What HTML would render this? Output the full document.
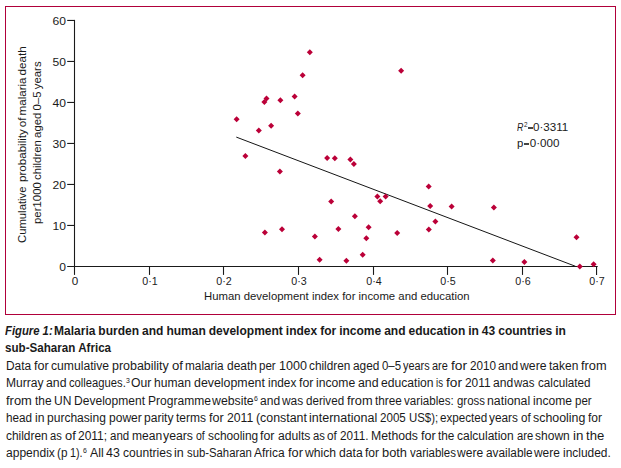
<!DOCTYPE html>
<html><head><meta charset="utf-8"><title>Figure 1</title>
<style>
html,body{margin:0;padding:0;background:#fff;}
body{width:621px;height:468px;position:relative;overflow:hidden;font-family:"Liberation Sans",sans-serif;color:#1a1a1a;}
.box{position:absolute;left:5px;top:6px;width:611px;height:309px;border:1px solid #b0003a;box-sizing:border-box;}
.t{position:absolute;white-space:nowrap;line-height:0;height:0;}
sup{font-size:58%;line-height:0;vertical-align:baseline;position:relative;top:-0.62em;}
.rot{position:absolute;white-space:nowrap;line-height:0;height:0;transform-origin:0 0;}
</style></head><body>
<div class="box"></div>
<svg width="621" height="468" viewBox="0 0 621 468" style="position:absolute;left:0;top:0">
<g stroke="#1a1a1a" stroke-width="1.1" fill="none" stroke-linecap="butt">
<path d="M74.5 19.90 V274.9"/>
<path d="M67.2 266.45 H597.7"/>
<path d="M67.2 225.45 H74.5"/>
<path d="M67.2 184.45 H74.5"/>
<path d="M67.2 143.45 H74.5"/>
<path d="M67.2 102.45 H74.5"/>
<path d="M67.2 61.45 H74.5"/>
<path d="M67.2 20.45 H74.5"/>
<path d="M149.50 266.45 V274.9"/>
<path d="M223.50 266.45 V274.9"/>
<path d="M298.50 266.45 V274.9"/>
<path d="M373.50 266.45 V274.9"/>
<path d="M447.50 266.45 V274.9"/>
<path d="M522.50 266.45 V274.9"/>
<path d="M596.55 266.45 V274.9"/>
</g>
<path d="M236.3 137.1 L575.5 266.3" stroke="#151515" stroke-width="1" fill="none"/>
<g fill="#bb0038">
<path d="M309.8 49.2 L312.8 52.2 L309.8 55.2 L306.8 52.2Z"/>
<path d="M302.6 72.2 L305.6 75.2 L302.6 78.2 L299.6 75.2Z"/>
<path d="M294.6 93.5 L297.6 96.5 L294.6 99.5 L291.6 96.5Z"/>
<path d="M297.8 110.6 L300.8 113.6 L297.8 116.6 L294.8 113.6Z"/>
<path d="M280.4 97.2 L283.4 100.2 L280.4 103.2 L277.4 100.2Z"/>
<path d="M266.5 95.4 L269.5 98.4 L266.5 101.4 L263.5 98.4Z"/>
<path d="M264.4 99.0 L267.4 102.0 L264.4 105.0 L261.4 102.0Z"/>
<path d="M236.6 116.2 L239.6 119.2 L236.6 122.2 L233.6 119.2Z"/>
<path d="M271.1 122.8 L274.1 125.8 L271.1 128.8 L268.1 125.8Z"/>
<path d="M258.8 127.5 L261.8 130.5 L258.8 133.5 L255.8 130.5Z"/>
<path d="M245.4 152.9 L248.4 155.9 L245.4 158.9 L242.4 155.9Z"/>
<path d="M279.9 168.5 L282.9 171.5 L279.9 174.5 L276.9 171.5Z"/>
<path d="M327.1 154.9 L330.1 157.9 L327.1 160.9 L324.1 157.9Z"/>
<path d="M334.8 155.2 L337.8 158.2 L334.8 161.2 L331.8 158.2Z"/>
<path d="M350.4 156.5 L353.4 159.5 L350.4 162.5 L347.4 159.5Z"/>
<path d="M353.9 160.9 L356.9 163.9 L353.9 166.9 L350.9 163.9Z"/>
<path d="M331.2 198.6 L334.2 201.6 L331.2 204.6 L328.2 201.6Z"/>
<path d="M354.9 213.3 L357.9 216.3 L354.9 219.3 L351.9 216.3Z"/>
<path d="M282.0 226.3 L285.0 229.3 L282.0 232.3 L279.0 229.3Z"/>
<path d="M338.4 226.0 L341.4 229.0 L338.4 232.0 L335.4 229.0Z"/>
<path d="M264.9 229.4 L267.9 232.4 L264.9 235.4 L261.9 232.4Z"/>
<path d="M314.9 233.5 L317.9 236.5 L314.9 239.5 L311.9 236.5Z"/>
<path d="M319.6 256.7 L322.6 259.7 L319.6 262.7 L316.6 259.7Z"/>
<path d="M346.4 257.7 L349.4 260.7 L346.4 263.7 L343.4 260.7Z"/>
<path d="M401.1 67.8 L404.1 70.8 L401.1 73.8 L398.1 70.8Z"/>
<path d="M428.7 183.4 L431.7 186.4 L428.7 189.4 L425.7 186.4Z"/>
<path d="M377.4 193.5 L380.4 196.5 L377.4 199.5 L374.4 196.5Z"/>
<path d="M385.6 193.5 L388.6 196.5 L385.6 199.5 L382.6 196.5Z"/>
<path d="M380.2 198.3 L383.2 201.3 L380.2 204.3 L377.2 201.3Z"/>
<path d="M430.2 203.1 L433.2 206.1 L430.2 209.1 L427.2 206.1Z"/>
<path d="M451.6 203.5 L454.6 206.5 L451.6 209.5 L448.6 206.5Z"/>
<path d="M493.9 204.5 L496.9 207.5 L493.9 210.5 L490.9 207.5Z"/>
<path d="M435.4 218.4 L438.4 221.4 L435.4 224.4 L432.4 221.4Z"/>
<path d="M368.6 224.3 L371.6 227.3 L368.6 230.3 L365.6 227.3Z"/>
<path d="M428.8 226.6 L431.8 229.6 L428.8 232.6 L425.8 229.6Z"/>
<path d="M397.2 230.1 L400.2 233.1 L397.2 236.1 L394.2 233.1Z"/>
<path d="M366.3 235.3 L369.3 238.3 L366.3 241.3 L363.3 238.3Z"/>
<path d="M362.7 251.8 L365.7 254.8 L362.7 257.8 L359.7 254.8Z"/>
<path d="M492.8 257.6 L495.8 260.6 L492.8 263.6 L489.8 260.6Z"/>
<path d="M576.5 234.3 L579.5 237.3 L576.5 240.3 L573.5 237.3Z"/>
<path d="M524.4 259.0 L527.4 262.0 L524.4 265.0 L521.4 262.0Z"/>
<path d="M579.8 263.5 L582.8 266.5 L579.8 269.5 L576.8 266.5Z"/>
<path d="M593.6 261.3 L596.6 264.3 L593.6 267.3 L590.6 264.3Z"/>
</g></svg>
<div class="t" style="left:66.4px;top:267px;font-size:11px;transform:translateX(-100%) scaleX(1.1);transform-origin:100% 0;">0</div>
<div class="t" style="left:66.4px;top:226px;font-size:11px;transform:translateX(-100%) scaleX(1.1);transform-origin:100% 0;">10</div>
<div class="t" style="left:66.4px;top:185px;font-size:11px;transform:translateX(-100%) scaleX(1.1);transform-origin:100% 0;">20</div>
<div class="t" style="left:66.4px;top:144px;font-size:11px;transform:translateX(-100%) scaleX(1.1);transform-origin:100% 0;">30</div>
<div class="t" style="left:66.4px;top:103px;font-size:11px;transform:translateX(-100%) scaleX(1.1);transform-origin:100% 0;">40</div>
<div class="t" style="left:66.4px;top:62px;font-size:11px;transform:translateX(-100%) scaleX(1.1);transform-origin:100% 0;">50</div>
<div class="t" style="left:66.4px;top:21px;font-size:11px;transform:translateX(-100%) scaleX(1.1);transform-origin:100% 0;">60</div>
<div class="t" style="left:74.6px;top:281px;font-size:11px;transform:translateX(-50%) scaleX(1.06);transform-origin:50% 0;">0</div>
<div class="t" style="left:149.6px;top:281px;font-size:11px;transform:translateX(-50%) scaleX(0.97);transform-origin:50% 0;">0·1</div>
<div class="t" style="left:223.6px;top:281px;font-size:11px;transform:translateX(-50%) scaleX(0.97);transform-origin:50% 0;">0·2</div>
<div class="t" style="left:298.6px;top:281px;font-size:11px;transform:translateX(-50%) scaleX(0.97);transform-origin:50% 0;">0·3</div>
<div class="t" style="left:373.6px;top:281px;font-size:11px;transform:translateX(-50%) scaleX(0.97);transform-origin:50% 0;">0·4</div>
<div class="t" style="left:447.6px;top:281px;font-size:11px;transform:translateX(-50%) scaleX(0.97);transform-origin:50% 0;">0·5</div>
<div class="t" style="left:522.6px;top:281px;font-size:11px;transform:translateX(-50%) scaleX(0.97);transform-origin:50% 0;">0·6</div>
<div class="t" style="left:596.65px;top:281px;font-size:11px;transform:translateX(-50%) scaleX(0.97);transform-origin:50% 0;">0·7</div>
<div class="t" style="left:203.7px;top:296px;font-size:11.6px;transform:scaleX(0.979);transform-origin:0 0;">Human development index for income and education</div>
<div class="t" style="left:516.6px;top:127px;font-size:11.6px;transform:scaleX(0.76);transform-origin:0 0;"><i>R</i></div>
<div class="t" style="left:523.9px;top:127px;font-size:11.6px;transform:scaleX(0.95);transform-origin:0 0;"><sup>2</sup></div>
<div style="position:absolute;left:527.7px;top:127.0px;width:4.9px;height:2.1px;background:#444"></div>
<div class="t" style="left:533.0px;top:127px;font-size:11.6px;transform:scaleX(1.0);transform-origin:0 0;">0·3311</div>
<div class="t" style="left:516.6px;top:143px;font-size:11.6px;transform:scaleX(0.98);transform-origin:0 0;">p</div>
<div style="position:absolute;left:523.8px;top:142.9px;width:5.2px;height:2.1px;background:#444"></div>
<div class="t" style="left:529.7px;top:143px;font-size:11.6px;transform:scaleX(1.0);transform-origin:0 0;">0·000</div>
<div class="rot" style="left:22.1px;top:243px;font-size:11.6px;transform:rotate(-90deg) scaleX(0.974)">Cumulative</div>
<div class="rot" style="left:22.1px;top:181.9px;font-size:11.6px;word-spacing:-1.2px;transform:rotate(-90deg) scaleX(1.0)">probability of malaria death</div>
<div class="rot" style="left:37.3px;top:224px;font-size:11.6px;word-spacing:-1.0px;transform:rotate(-90deg) scaleX(0.982)">per<span style="letter-spacing:-2.2px"> </span>1000 children aged 0–5 years</div>
<div class="t" style="left:4.9px;top:331px;font-size:12px;transform:scaleX(0.94);transform-origin:0 0;"><b><i>Figure 1:</i></b></div>
<div class="t" style="left:54.2px;top:331px;font-size:12px;transform:scaleX(1.001);transform-origin:0 0;word-spacing:-0.36px;"><b>Malaria burden and human development index for income and education in 43 countries in</b></div>
<div class="t" style="left:5.2px;top:348px;font-size:12px;transform:scaleX(0.968);transform-origin:0 0;"><b>sub-Saharan Africa</b></div>
<div class="t" style="left:5.9px;top:366px;font-size:12px;transform:scaleX(0.9937);transform-origin:0 0;">Data</div>
<div class="t" style="left:33.8px;top:366px;font-size:12px;transform:scaleX(1.0488);transform-origin:0 0;">for</div>
<div class="t" style="left:51.2px;top:366px;font-size:12px;transform:scaleX(1.0129);transform-origin:0 0;">cumulative</div>
<div class="t" style="left:112.0px;top:366px;font-size:12px;transform:scaleX(1.0383);transform-origin:0 0;">probability</div>
<div class="t" style="left:171.5px;top:366px;font-size:12px;transform:scaleX(1.0983);transform-origin:0 0;">of</div>
<div class="t" style="left:185.2px;top:366px;font-size:12px;transform:scaleX(0.9832);transform-origin:0 0;">malaria</div>
<div class="t" style="left:226.6px;top:366px;font-size:12px;transform:scaleX(0.999);transform-origin:0 0;">death</div>
<div class="t" style="left:259.3px;top:366px;font-size:12px;transform:scaleX(0.9629);transform-origin:0 0;">per</div>
<div class="t" style="left:278.7px;top:366px;font-size:12px;transform:scaleX(1.0448);transform-origin:0 0;">1000</div>
<div class="t" style="left:309.3px;top:366px;font-size:12px;transform:scaleX(0.9826);transform-origin:0 0;">children</div>
<div class="t" style="left:353.3px;top:366px;font-size:12px;transform:scaleX(0.9886);transform-origin:0 0;">aged</div>
<div class="t" style="left:382.4px;top:366px;font-size:12px;transform:scaleX(0.9535);transform-origin:0 0;">0–5</div>
<div class="t" style="left:402.9px;top:366px;font-size:12px;transform:scaleX(0.9065);transform-origin:0 0;">years</div>
<div class="t" style="left:432.2px;top:366px;font-size:12px;transform:scaleX(0.911);transform-origin:0 0;">are</div>
<div class="t" style="left:450.7px;top:366px;font-size:12px;transform:scaleX(1.1487);transform-origin:0 0;">for</div>
<div class="t" style="left:469.5px;top:366px;font-size:12px;transform:scaleX(0.9774);transform-origin:0 0;">2010</div>
<div class="t" style="left:498.3px;top:366px;font-size:12px;transform:scaleX(1.0034);transform-origin:0 0;">and</div>
<div class="t" style="left:519.8px;top:366px;font-size:12px;transform:scaleX(1.0186);transform-origin:0 0;">were</div>
<div class="t" style="left:549.0px;top:366px;font-size:12px;transform:scaleX(0.998);transform-origin:0 0;">taken</div>
<div class="t" style="left:581.0px;top:366px;font-size:12px;transform:scaleX(1.0667);transform-origin:0 0;">from</div>
<div class="t" style="left:5.5px;top:383px;font-size:12px;transform:scaleX(1.0042);transform-origin:0 0;">Murray</div>
<div class="t" style="left:45.7px;top:383px;font-size:12px;transform:scaleX(1.0234);transform-origin:0 0;">and</div>
<div class="t" style="left:68.9px;top:383px;font-size:12px;transform:scaleX(0.9355);transform-origin:0 0;">colleagues.</div>
<div class="t" style="left:125.9px;top:383px;font-size:12px;transform:scaleX(1.0);transform-origin:0 0;"><sup>3</sup></div>
<div class="t" style="left:131.3px;top:383px;font-size:12px;transform:scaleX(1.0142);transform-origin:0 0;">Our</div>
<div class="t" style="left:154.3px;top:383px;font-size:12px;transform:scaleX(1.0054);transform-origin:0 0;">human</div>
<div class="t" style="left:193.9px;top:383px;font-size:12px;transform:scaleX(1.0317);transform-origin:0 0;">development</div>
<div class="t" style="left:267.5px;top:383px;font-size:12px;transform:scaleX(0.9865);transform-origin:0 0;">index</div>
<div class="t" style="left:298.5px;top:383px;font-size:12px;transform:scaleX(1.0274);transform-origin:0 0;">for</div>
<div class="t" style="left:315.6px;top:383px;font-size:12px;transform:scaleX(1.0132);transform-origin:0 0;">income</div>
<div class="t" style="left:357.5px;top:383px;font-size:12px;transform:scaleX(1.0284);transform-origin:0 0;">and</div>
<div class="t" style="left:380.8px;top:383px;font-size:12px;transform:scaleX(1.0106);transform-origin:0 0;">education</div>
<div class="t" style="left:436.1px;top:383px;font-size:12px;transform:scaleX(0.8072);transform-origin:0 0;">is</div>
<div class="t" style="left:445.8px;top:383px;font-size:12px;transform:scaleX(1.1416);transform-origin:0 0;">for</div>
<div class="t" style="left:464.5px;top:383px;font-size:12px;transform:scaleX(0.9918);transform-origin:0 0;">2011</div>
<div class="t" style="left:492.8px;top:383px;font-size:12px;transform:scaleX(1.0084);transform-origin:0 0;">and</div>
<div class="t" style="left:514.4px;top:383px;font-size:12px;transform:scaleX(0.9558);transform-origin:0 0;">was</div>
<div class="t" style="left:537.5px;top:383px;font-size:12px;transform:scaleX(0.9714);transform-origin:0 0;">calculated</div>
<div class="t" style="left:6.0px;top:401px;font-size:12px;transform:scaleX(1.0792);transform-origin:0 0;">from</div>
<div class="t" style="left:34.6px;top:401px;font-size:12px;transform:scaleX(0.9948);transform-origin:0 0;">the</div>
<div class="t" style="left:53.9px;top:401px;font-size:12px;transform:scaleX(1.0032);transform-origin:0 0;">UN</div>
<div class="t" style="left:74.0px;top:401px;font-size:12px;transform:scaleX(1.004);transform-origin:0 0;">Development</div>
<div class="t" style="left:147.7px;top:401px;font-size:12px;transform:scaleX(1.005);transform-origin:0 0;">Programme</div>
<div class="t" style="left:212.1px;top:401px;font-size:12px;transform:scaleX(1.0249);transform-origin:0 0;">website</div>
<div class="t" style="left:254.0px;top:401px;font-size:12px;transform:scaleX(1.0);transform-origin:0 0;"><sup>6</sup></div>
<div class="t" style="left:260.4px;top:401px;font-size:12px;transform:scaleX(1.0034);transform-origin:0 0;">and</div>
<div class="t" style="left:281.9px;top:401px;font-size:12px;transform:scaleX(0.9933);transform-origin:0 0;">was</div>
<div class="t" style="left:305.8px;top:401px;font-size:12px;transform:scaleX(0.968);transform-origin:0 0;">derived</div>
<div class="t" style="left:346.6px;top:401px;font-size:12px;transform:scaleX(1.0667);transform-origin:0 0;">from</div>
<div class="t" style="left:374.9px;top:401px;font-size:12px;transform:scaleX(0.9796);transform-origin:0 0;">three</div>
<div class="t" style="left:404.4px;top:401px;font-size:12px;transform:scaleX(0.9677);transform-origin:0 0;">variables:</div>
<div class="t" style="left:456.8px;top:401px;font-size:12px;transform:scaleX(0.9508);transform-origin:0 0;">gross</div>
<div class="t" style="left:487.4px;top:401px;font-size:12px;transform:scaleX(1.0274);transform-origin:0 0;">national</div>
<div class="t" style="left:533.3px;top:401px;font-size:12px;transform:scaleX(1.0081);transform-origin:0 0;">income</div>
<div class="t" style="left:575.0px;top:401px;font-size:12px;transform:scaleX(0.9571);transform-origin:0 0;">per</div>
<div class="t" style="left:6.0px;top:418px;font-size:12px;transform:scaleX(0.9774);transform-origin:0 0;">head</div>
<div class="t" style="left:34.8px;top:418px;font-size:12px;transform:scaleX(1.0167);transform-origin:0 0;">in</div>
<div class="t" style="left:47.0px;top:418px;font-size:12px;transform:scaleX(1.0031);transform-origin:0 0;">purchasing</div>
<div class="t" style="left:108.6px;top:418px;font-size:12px;transform:scaleX(1.0034);transform-origin:0 0;">power</div>
<div class="t" style="left:144.1px;top:418px;font-size:12px;transform:scaleX(1.0053);transform-origin:0 0;">parity</div>
<div class="t" style="left:176.3px;top:418px;font-size:12px;transform:scaleX(1.0033);transform-origin:0 0;">terms</div>
<div class="t" style="left:209.1px;top:418px;font-size:12px;transform:scaleX(1.0488);transform-origin:0 0;">for</div>
<div class="t" style="left:226.5px;top:418px;font-size:12px;transform:scaleX(1.0189);transform-origin:0 0;">2011</div>
<div class="t" style="left:255.5px;top:418px;font-size:12px;transform:scaleX(1.0312);transform-origin:0 0;">(constant</div>
<div class="t" style="left:309.1px;top:418px;font-size:12px;transform:scaleX(1.043);transform-origin:0 0;">international</div>
<div class="t" style="left:380.0px;top:418px;font-size:12px;transform:scaleX(0.9662);transform-origin:0 0;">2005</div>
<div class="t" style="left:408.5px;top:418px;font-size:12px;transform:scaleX(0.9515);transform-origin:0 0;">US&#36;);</div>
<div class="t" style="left:440.4px;top:418px;font-size:12px;transform:scaleX(0.9712);transform-origin:0 0;">expected</div>
<div class="t" style="left:489.1px;top:418px;font-size:12px;transform:scaleX(0.9849);transform-origin:0 0;">years</div>
<div class="t" style="left:520.7px;top:418px;font-size:12px;transform:scaleX(0.9685);transform-origin:0 0;">of</div>
<div class="t" style="left:533.1px;top:418px;font-size:12px;transform:scaleX(1.0335);transform-origin:0 0;">schooling</div>
<div class="t" style="left:588.2px;top:418px;font-size:12px;transform:scaleX(0.9989);transform-origin:0 0;">for</div>
<div class="t" style="left:5.6px;top:436px;font-size:12px;transform:scaleX(0.9921);transform-origin:0 0;">children</div>
<div class="t" style="left:50.0px;top:436px;font-size:12px;transform:scaleX(0.93);transform-origin:0 0;">as</div>
<div class="t" style="left:64.5px;top:436px;font-size:12px;transform:scaleX(1.0783);transform-origin:0 0;">of</div>
<div class="t" style="left:78.0px;top:436px;font-size:12px;transform:scaleX(0.9986);transform-origin:0 0;">2011;</div>
<div class="t" style="left:109.8px;top:436px;font-size:12px;transform:scaleX(0.9585);transform-origin:0 0;">and</div>
<div class="t" style="left:131.7px;top:436px;font-size:12px;transform:scaleX(1.0056);transform-origin:0 0;">mean</div>
<div class="t" style="left:163.3px;top:436px;font-size:12px;transform:scaleX(1.0224);transform-origin:0 0;">years</div>
<div class="t" style="left:196.0px;top:436px;font-size:12px;transform:scaleX(0.8786);transform-origin:0 0;">of</div>
<div class="t" style="left:207.5px;top:436px;font-size:12px;transform:scaleX(0.9901);transform-origin:0 0;">schooling</div>
<div class="t" style="left:260.4px;top:436px;font-size:12px;transform:scaleX(1.0274);transform-origin:0 0;">for</div>
<div class="t" style="left:277.5px;top:436px;font-size:12px;transform:scaleX(1.0115);transform-origin:0 0;">adults</div>
<div class="t" style="left:312.6px;top:436px;font-size:12px;transform:scaleX(0.9379);transform-origin:0 0;">as</div>
<div class="t" style="left:327.2px;top:436px;font-size:12px;transform:scaleX(0.9785);transform-origin:0 0;">of</div>
<div class="t" style="left:339.7px;top:436px;font-size:12px;transform:scaleX(0.978);transform-origin:0 0;">2011.</div>
<div class="t" style="left:370.9px;top:436px;font-size:12px;transform:scaleX(1.021);transform-origin:0 0;">Methods</div>
<div class="t" style="left:420.6px;top:436px;font-size:12px;transform:scaleX(1.0488);transform-origin:0 0;">for</div>
<div class="t" style="left:438.0px;top:436px;font-size:12px;transform:scaleX(0.9828);transform-origin:0 0;">the</div>
<div class="t" style="left:457.1px;top:436px;font-size:12px;transform:scaleX(0.9999);transform-origin:0 0;">calculation</div>
<div class="t" style="left:516.5px;top:436px;font-size:12px;transform:scaleX(0.9341);transform-origin:0 0;">are</div>
<div class="t" style="left:535.4px;top:436px;font-size:12px;transform:scaleX(1.0032);transform-origin:0 0;">shown</div>
<div class="t" style="left:572.9px;top:436px;font-size:12px;transform:scaleX(1.113);transform-origin:0 0;">in</div>
<div class="t" style="left:586.0px;top:436px;font-size:12px;transform:scaleX(1.0906);transform-origin:0 0;">the</div>
<div class="t" style="left:5.6px;top:453px;font-size:12px;transform:scaleX(1.0037);transform-origin:0 0;">appendix</div>
<div class="t" style="left:57.2px;top:453px;font-size:12px;transform:scaleX(0.9745);transform-origin:0 0;">(p</div>
<div class="t" style="left:70.3px;top:453px;font-size:12px;transform:scaleX(0.899);transform-origin:0 0;">1).</div>
<div class="t" style="left:83.1px;top:453px;font-size:12px;transform:scaleX(1.0);transform-origin:0 0;"><sup>6</sup></div>
<div class="t" style="left:89.8px;top:453px;font-size:12px;transform:scaleX(1.0267);transform-origin:0 0;">All</div>
<div class="t" style="left:106.2px;top:453px;font-size:12px;transform:scaleX(1.033);transform-origin:0 0;">43</div>
<div class="t" style="left:122.7px;top:453px;font-size:12px;transform:scaleX(1.0061);transform-origin:0 0;">countries</div>
<div class="t" style="left:174.4px;top:453px;font-size:12px;transform:scaleX(1.0381);transform-origin:0 0;">in</div>
<div class="t" style="left:186.8px;top:453px;font-size:12px;transform:scaleX(0.943);transform-origin:0 0;">sub-Saharan</div>
<div class="t" style="left:254.3px;top:453px;font-size:12px;transform:scaleX(0.9971);transform-origin:0 0;">Africa</div>
<div class="t" style="left:287.6px;top:453px;font-size:12px;transform:scaleX(1.0631);transform-origin:0 0;">for</div>
<div class="t" style="left:305.2px;top:453px;font-size:12px;transform:scaleX(1.0134);transform-origin:0 0;">which</div>
<div class="t" style="left:339.0px;top:453px;font-size:12px;transform:scaleX(1.0146);transform-origin:0 0;">data</div>
<div class="t" style="left:365.4px;top:453px;font-size:12px;transform:scaleX(1.006);transform-origin:0 0;">for</div>
<div class="t" style="left:382.2px;top:453px;font-size:12px;transform:scaleX(1.0702);transform-origin:0 0;">both</div>
<div class="t" style="left:409.9px;top:453px;font-size:12px;transform:scaleX(0.9577);transform-origin:0 0;">variables</div>
<div class="t" style="left:457.3px;top:453px;font-size:12px;transform:scaleX(1.0032);transform-origin:0 0;">were</div>
<div class="t" style="left:486.1px;top:453px;font-size:12px;transform:scaleX(0.9858);transform-origin:0 0;">available</div>
<div class="t" style="left:534.2px;top:453px;font-size:12px;transform:scaleX(0.9917);transform-origin:0 0;">were</div>
<div class="t" style="left:562.7px;top:453px;font-size:12px;transform:scaleX(0.9928);transform-origin:0 0;">included.</div>
</body></html>
